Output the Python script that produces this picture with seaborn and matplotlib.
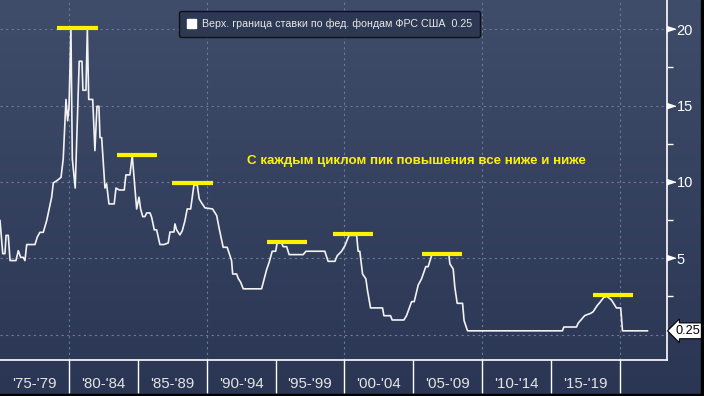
import numpy as np
import matplotlib
matplotlib.use("Agg")
import matplotlib.pyplot as plt
import matplotlib.transforms as mtransforms
from matplotlib.colors import LinearSegmentedColormap
from matplotlib.patches import Patch, Rectangle
import seaborn as sns

# ---------------- data ----------------
years = [1975.00, 1975.20, 1975.36, 1975.44, 1975.60, 1975.73, 1976.16, 1976.33, 1976.50, 1976.69,
         1976.81, 1976.94, 1977.54, 1977.71, 1977.90, 1978.14, 1978.39, 1978.75, 1978.87, 1979.16,
         1979.43, 1979.59, 1979.79, 1979.91, 1980.01, 1980.15, 1980.25, 1980.46, 1980.75, 1980.95,
         1981.02, 1981.24, 1981.34, 1981.44, 1981.73, 1981.89, 1982.04, 1982.18, 1982.26, 1982.38,
         1982.62, 1982.74, 1982.91, 1983.29, 1983.42, 1983.66, 1984.02, 1984.14, 1984.43, 1984.60,
         1984.75, 1984.92, 1985.09, 1985.21, 1985.36, 1985.52, 1985.65, 1985.89, 1986.01, 1986.20,
         1986.37, 1986.61, 1986.90, 1987.21, 1987.34, 1987.63, 1987.70, 1987.82, 1988.06, 1988.23,
         1988.43, 1988.59, 1988.84, 1989.08, 1989.32, 1989.46, 1989.64, 1989.88, 1990.43, 1990.73,
         1990.91, 1991.20, 1991.49, 1991.81, 1991.89, 1992.18, 1992.29, 1992.47, 1992.66, 1993.99,
         1994.35, 1994.54, 1994.76, 1995.01, 1995.12, 1995.44, 1995.56, 1995.81, 1995.99, 1997.01,
         1997.21, 1998.58, 1998.82, 1999.31, 1999.48, 1999.80, 2000.04, 2000.28, 2000.35, 2000.89,
         2001.00, 2001.12, 2001.32, 2001.56, 2001.68, 2001.90, 2002.77, 2002.87, 2003.35, 2003.47,
         2004.32, 2004.51, 2004.88, 2005.07, 2005.36, 2005.60, 2005.91, 2006.08, 2006.33, 2006.44,
         2007.58, 2007.66, 2007.90, 2008.02, 2008.19, 2008.58, 2008.69, 2008.94, 2015.83, 2015.93,
         2016.85, 2016.97, 2017.21, 2017.45, 2017.89, 2018.06, 2018.35, 2018.54, 2018.83, 2019.07,
         2019.39, 2019.75, 2020.06, 2020.19, 2022.00]
rates = [7.47, 5.30, 5.30, 6.50, 6.50, 4.85, 4.85, 5.50, 5.06, 5.06,
         4.85, 5.90, 5.90, 6.40, 6.70, 6.70, 7.47, 9.00, 9.93, 10.10,
         10.30, 11.50, 15.40, 14.00, 14.90, 20.00, 11.50, 9.60, 17.90, 17.90,
         16.00, 16.00, 20.00, 15.40, 15.40, 12.05, 14.95, 14.95, 12.90, 12.90,
         9.60, 9.87, 8.56, 8.56, 9.60, 9.47, 9.47, 10.46, 10.46, 11.72,
         10.10, 8.23, 9.00, 8.23, 7.73, 7.73, 7.97, 7.97, 7.68, 6.86,
         6.86, 5.90, 5.90, 6.00, 6.72, 6.72, 7.25, 6.86, 6.53, 6.80,
         7.47, 8.23, 8.23, 9.80, 9.80, 8.89, 8.62, 8.30, 8.23, 7.80,
         6.96, 5.72, 5.72, 4.85, 3.97, 3.97, 3.69, 3.43, 3.00, 3.00,
         4.24, 4.74, 5.46, 5.46, 6.00, 6.00, 5.76, 5.76, 5.24, 5.24,
         5.46, 5.46, 4.80, 4.80, 5.17, 5.46, 5.83, 6.37, 6.50, 6.50,
         5.46, 5.46, 3.97, 3.65, 2.88, 1.75, 1.75, 1.24, 1.24, 0.96,
         0.96, 1.24, 2.16, 2.16, 3.25, 3.65, 4.45, 4.45, 5.17, 5.25,
         5.25, 4.63, 4.30, 3.10, 2.05, 2.05, 0.92, 0.25, 0.25, 0.50,
         0.50, 0.75, 1.00, 1.25, 1.40, 1.50, 1.90, 2.10, 2.44, 2.50,
         2.27, 1.75, 1.75, 0.25, 0.25]

peak_levels = [20.10, 11.76, 9.95, 6.08, 6.60, 5.30, 2.60]
peak_start = [1979.14, 1983.49, 1987.49, 1994.38, 1999.17, 2005.63, 2018.05]
peak_end = [1982.11, 1986.40, 1990.44, 1997.29, 2002.08, 2008.54, 2020.93]

period_edges = [1980, 1985, 1990, 1995, 2000, 2005, 2010, 2015, 2020]
period_centers = [1977.5, 1982.5, 1987.5, 1992.5, 1997.5, 2002.5, 2007.5, 2012.5, 2017.5]
period_labels = ["'75-'79", "'80-'84", "'85-'89", "'90-'94", "'95-'99",
                 "'00-'04", "'05-'09", "'10-'14", "'15-'19"]
grid_years = [1980, 1990, 2000, 2010, 2020]
grid_levels = [0, 5, 10, 15, 20]
y_major = [5, 10, 15, 20]
y_major_labels = ["5", "10", "15", "20"]
y_minor = [2.5, 7.5, 12.5, 17.5]
last_value = 0.25
last_label = "0.25"
legend_label = "Верх. граница ставки по фед. фондам ФРС США  0.25"
note_text = "С каждым циклом пик повышения все ниже и ниже"
note_pos = (1992.93, 11.39)

# ---------------- figure ----------------
W, H = 704, 396
fig = plt.figure(figsize=(W / 100, H / 100), dpi=100)

bg = fig.add_axes([0, 0, 1, 1], zorder=-10)
grad = np.linspace(1, 0, 256).reshape(-1, 1)
cmap = LinearSegmentedColormap.from_list("bg", ["#2a3653", "#3f4c6a"])
bg.imshow(grad, aspect="auto", cmap=cmap, extent=[0, 1, 0, 1], origin="upper")
bg.set_axis_off()

ax = fig.add_axes([0, 36 / H, 667 / W, 360 / H])
ax.set_facecolor("none")

px_per_year = 13.775
ax.set_xlim(1975.0, 1975.0 + 667 / px_per_year)
ax.set_ylim(-1.66, 21.91)

grid_col = "#6c7b98"
for gy in grid_years:
    ax.axvline(gy, color=grid_col, lw=0.8, ls=(0, (2, 3)), zorder=1)
for gl in grid_levels:
    ax.axhline(gl, color=grid_col, lw=0.8, ls=(0, (2, 3)), zorder=1)

sns.lineplot(x=years, y=rates, ax=ax, color="#f2f2f2", lw=1.2,
             estimator=None, sort=False, zorder=3, legend=False)

ax.hlines(peak_levels, peak_start, peak_end, colors="#fff200", lw=3, zorder=4)

ax.text(note_pos[0], note_pos[1], note_text, color="#fff200", fontsize=9.65,
        fontweight="bold", family="Liberation Sans", ha="left", va="center", zorder=5)

# spines
for s in ["left", "top"]:
    ax.spines[s].set_visible(False)
for s in ["right", "bottom"]:
    ax.spines[s].set_color("white")
    ax.spines[s].set_linewidth(1.2)

# x axis
ax.set_xticks(period_edges)
ax.set_xticklabels([""] * len(period_edges))
ax.set_xticks(period_centers, minor=True)
ax.set_xticklabels(period_labels, minor=True)
ax.tick_params(axis="x", which="major", length=24, width=1, color="white", direction="out")
ax.tick_params(axis="x", which="minor", length=0, pad=12.5, labelsize=10.8, labelcolor="#e4e4e4")
for lab in ax.get_xticklabels(minor=True):
    lab.set_family("Liberation Sans")

# y axis on right
ax.yaxis.tick_right()
ax.set_yticks(y_major)
ax.set_yticklabels(y_major_labels)
ax.set_yticks(y_minor, minor=True)
ax.tick_params(axis="y", which="major", length=0, pad=7, labelsize=10.5, labelcolor="white")
ax.tick_params(axis="y", which="minor", length=4, width=1, color="white", direction="out")
for lab in ax.get_yticklabels():
    lab.set_family("Liberation Sans")

trans = mtransforms.blended_transform_factory(ax.transAxes, ax.transData)
ax.plot([1.0] * len(y_major), y_major, ls="none", marker=[(0, -1), (0, 1), (3, 0)],
        markersize=12, color="white", transform=trans, clip_on=False, zorder=6)

ax.text(1.0 + 9 / 667, last_value, last_label, transform=trans, color="black",
        fontsize=9.2, family="Liberation Sans", ha="left", va="center",
        bbox=dict(boxstyle="larrow,pad=0.15", fc="white", ec="black", lw=0.8),
        clip_on=False, zorder=7)

# legend
handle = Patch(facecolor="white", edgecolor="white", label=legend_label)
leg = ax.legend(handles=[handle], loc="upper left",
                bbox_to_anchor=(179 / W, 1 - 10.5 / H), bbox_transform=fig.transFigure,
                borderaxespad=0, frameon=True, fancybox=True, framealpha=1,
                facecolor="#2d3853", edgecolor="#111111",
                handlelength=0.85, handleheight=0.95, handletextpad=0.55,
                borderpad=0.75, prop={"family": "Liberation Sans", "size": 7.7})
for t in leg.get_texts():
    t.set_color("#e8e8e8")

# black border right/bottom
fig.patches.append(Rectangle((701 / W, 0), 3 / W, 1, transform=fig.transFigure,
                             color="black", zorder=20))
fig.patches.append(Rectangle((0, 0), 1, 2.5 / H, transform=fig.transFigure,
                             color="black", zorder=20))

fig.savefig("out.png", dpi=100)
